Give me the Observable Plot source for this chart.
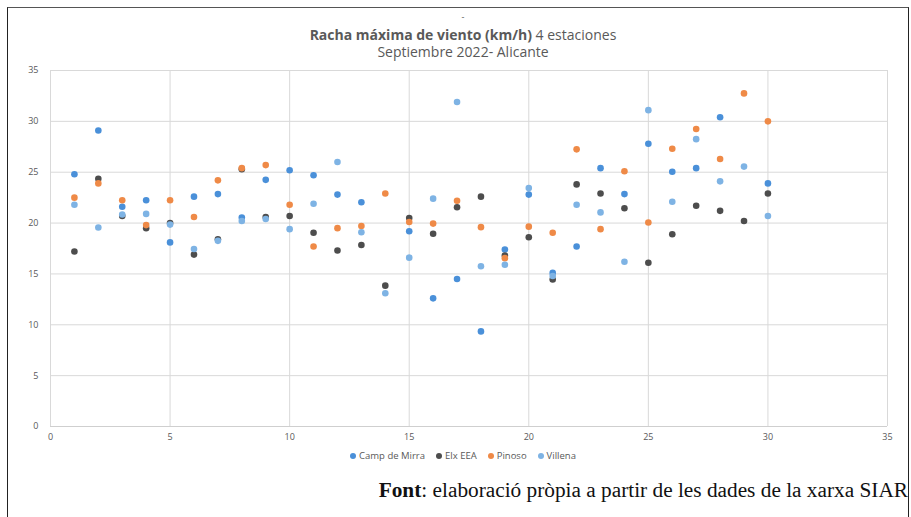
<!DOCTYPE html>
<html>
<head>
<meta charset="utf-8">
<script src="https://cdn.jsdelivr.net/npm/d3@7"></script>
<script src="https://cdn.jsdelivr.net/npm/@observablehq/plot@0.6"></script>
<style>
  html, body { margin: 0; padding: 0; background: #fff; }
  #wrap { position: relative; width: 911px; height: 517px; overflow: hidden; }
  #frame { position: absolute; left: 7px; top: 7px; width: 900px; height: 520px;
           border-left: 1.5px solid #222; border-top: 1.5px solid #555; border-right: 1.5px solid #222; }
  #chart { position: absolute; left: 0; top: 0; }
  .t { position: absolute; left: 0; width: 926px; text-align: center; color: #595959;
       font-family: "Open Sans", sans-serif; white-space: nowrap; }
  #legend { position: absolute; top: 449px; left: 0; width: 926px; text-align: center;
            font-family: "Open Sans", sans-serif; font-size: 9.5px; color: #595959; }
  #legend span.item { margin: 0 5.5px; }
  #legend span.dot { display: inline-block; width: 6px; height: 6px; border-radius: 50%; margin-right: 3px; vertical-align: 0px; }
  #caption { position: absolute; top: 480px; right: 3px; font-family: "Liberation Serif", serif;
             font-size: 21.3px; line-height: 1; color: #111; white-space: nowrap; }
</style>
</head>
<body>
<div id="wrap">
  <div id="chart"></div>
  <div id="frame"></div>
  <div class="t" style="top:13px;font-size:9px;line-height:8px;">-</div>
  <div class="t" style="top:25.5px;font-size:14px;line-height:17px;"><b>Racha máxima de viento (km/h)</b> 4 estaciones<br>Septiembre 2022- Alicante</div>
  <div id="legend"></div>
  <div id="caption"><b>Font</b>: elaboració pròpia a partir de les dades de la xarxa SIAR</div>
</div>
<script>
const days = [1,2,3,4,5,6,7,8,9,10,11,12,13,14,15,16,17,18,19,20,21,22,23,24,25,26,27,28,29,30];
const seriesNames = ["Camp de Mirra", "Elx EEA", "Pinoso", "Villena"];
const seriesColors = ["#4a90d9", "#4d4d4d", "#ef8a47", "#7eb3e4"];
const campDeMirra = [24.8, 29.1, 21.6, 22.25, 18.1, 22.6, 22.85, 20.55, 24.25, 25.2, 24.7, 22.8, 22.05, null, 19.2, 12.6, 14.5, 9.35, 17.4, 22.8, 15.1, 17.7, 25.4, 22.85, 27.8, 25.05, 25.4, 30.4, null, 23.9];
const elxEEA = [17.2, 24.35, 20.7, 19.5, 20.0, 16.9, 18.4, 25.3, 20.6, 20.7, 19.05, 17.3, 17.85, 13.85, 20.5, 18.95, 21.55, 22.6, 16.8, 18.6, 14.45, 23.8, 22.9, 21.45, 16.1, 18.9, 21.7, 21.2, 20.2, 22.9];
const pinoso = [22.5, 23.9, 22.25, 19.8, 22.25, 20.6, 24.2, 25.4, 25.7, 21.8, 17.7, 19.5, 19.7, 22.9, 20.1, 19.95, 22.2, 19.6, 16.55, 19.65, 19.05, 27.25, 19.4, 25.1, 20.05, 27.3, 29.25, 26.3, 32.75, 30.0];
const villena = [21.8, 19.57, 20.85, 20.9, 19.85, 17.45, 18.25, 20.2, 20.4, 19.4, 21.9, 26.0, 19.1, 13.1, 16.6, 22.4, 31.9, 15.75, 15.9, 23.45, 14.8, 21.8, 21.05, 16.2, 31.1, 22.1, 28.25, 24.1, 25.55, 20.7];
const xTicks = [0, 5, 10, 15, 20, 25, 30, 35];
const yTicks = [0, 5, 10, 15, 20, 25, 30, 35];

const allSeries = [campDeMirra, elxEEA, pinoso, villena];
const data = [];
allSeries.forEach((vals, s) => {
  vals.forEach((v, i) => { if (v != null) data.push({day: days[i], value: v, series: seriesNames[s]}); });
});

const plot = Plot.plot({
  width: 911,
  height: 517,
  marginLeft: 50,
  marginRight: 24,
  marginTop: 70,
  marginBottom: 91,
  style: { fontFamily: "'Open Sans', sans-serif", fontSize: "9px", color: "#595959", background: "transparent" },
  x: { domain: [0, 35], ticks: xTicks, tickSize: 0, tickPadding: 7, label: null },
  y: { domain: [0, 35], ticks: yTicks, tickSize: 0, tickPadding: 12, label: null },
  color: { domain: seriesNames, range: seriesColors },
  marks: [
    Plot.gridX(xTicks, { stroke: "#d9d9d9", strokeOpacity: 1, strokeWidth: 1 }),
    Plot.gridY(yTicks, { stroke: "#d9d9d9", strokeOpacity: 1, strokeWidth: 1 }),
    Plot.ruleY([0], { stroke: "#cfcfcf" }),
    Plot.axisX({ ticks: xTicks, tickSize: 0, tickPadding: 7, fill: "#595959" }),
    Plot.axisY({ ticks: yTicks, tickSize: 0, tickPadding: 12, fill: "#595959" }),
    Plot.dot(data, { x: "day", y: "value", fill: "series", r: 3.3, stroke: "none" })
  ]
});
document.getElementById("chart").appendChild(plot);

const legend = document.getElementById("legend");
seriesNames.forEach((n, i) => {
  const item = document.createElement("span");
  item.className = "item";
  const dot = document.createElement("span");
  dot.className = "dot";
  dot.style.background = seriesColors[i];
  item.appendChild(dot);
  item.appendChild(document.createTextNode(n));
  legend.appendChild(item);
});
</script>
</body>
</html>
